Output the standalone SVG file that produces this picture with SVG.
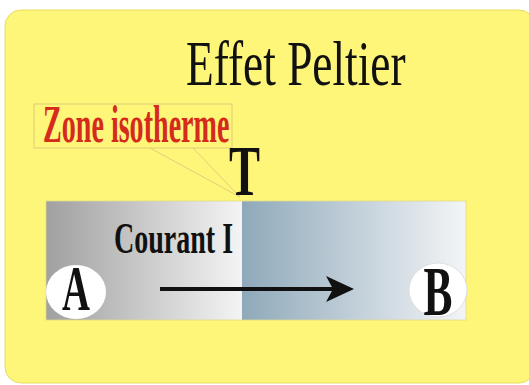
<svg xmlns="http://www.w3.org/2000/svg" width="529" height="385" viewBox="0 0 529 385">
<style>
.serif{font-family:"Liberation Serif","Times New Roman",serif;}
.bold{font-weight:bold;}
.callout{fill:none;stroke:#d6c47a;stroke-width:0.8;}
</style>
<defs>
<linearGradient id="gLeft" x1="0" y1="0" x2="1" y2="0">
<stop offset="0" stop-color="#a0a0a0"/>
<stop offset="1" stop-color="#f4f4f4"/>
</linearGradient>
<linearGradient id="gRight" x1="0" y1="0" x2="1" y2="0">
<stop offset="0" stop-color="#8fa9ba"/>
<stop offset="1" stop-color="#f3f5f7"/>
</linearGradient>
</defs>
<rect x="0" y="0" width="529" height="385" fill="#ffffff"/>
<rect id="background" x="5" y="10" width="530" height="373" rx="16" ry="16" fill="#fef679" stroke="#e6dc62" stroke-width="1"/>
<g id="title">
<text class="serif" transform="translate(186,85) scale(0.72,1)" x="0" y="0" font-size="63" fill="#111">Effet Peltier</text>
</g>
<g id="bar">
<rect x="46" y="201" width="196" height="119" fill="url(#gLeft)"/>
<rect x="242" y="201" width="224" height="119" fill="url(#gRight)"/>
<rect x="46" y="201" width="420" height="119" fill="none" stroke="#e2d98a" stroke-width="0.8"/>
</g>
<g id="zone-isotherme">
<rect class="callout" x="34" y="104" width="198" height="44"/>
<text class="serif bold" transform="translate(43,141.5) scale(0.53,1)" x="0" y="0" font-size="53" fill="#d42b1c">Zone isotherme</text>
</g>
<g id="connectors">
<polyline class="callout" points="150,148 240,197 193,148"/>
<line x1="160" y1="289" x2="335" y2="289" stroke="#111" stroke-width="4"/>
<polygon points="354,289 326,276 333,289 326,302" fill="#111"/>
</g>
<g id="T">
<text class="serif bold" transform="translate(229,195) scale(0.646,1)" x="0" y="0" font-size="72" fill="#111">T</text>
</g>
<g id="courant">
<text class="serif bold" transform="translate(114,253) scale(0.623,1)" x="0" y="0" font-size="45" fill="#111">Courant I</text>
</g>
<g id="node-A">
<ellipse cx="76" cy="292" rx="30" ry="27" fill="#ffffff"/>
<text class="serif bold" transform="translate(76,310) scale(0.615,1)" x="0" y="0" font-size="63" text-anchor="middle" fill="#111">A</text>
</g>
<g id="node-B">
<ellipse cx="438" cy="290" rx="29" ry="27" fill="#ffffff" stroke="#d8d8d8" stroke-width="0.8"/>
<text class="serif bold" transform="translate(438,315) scale(0.62,1)" x="0" y="0" font-size="70" text-anchor="middle" fill="#111">B</text>
</g>
</svg>
